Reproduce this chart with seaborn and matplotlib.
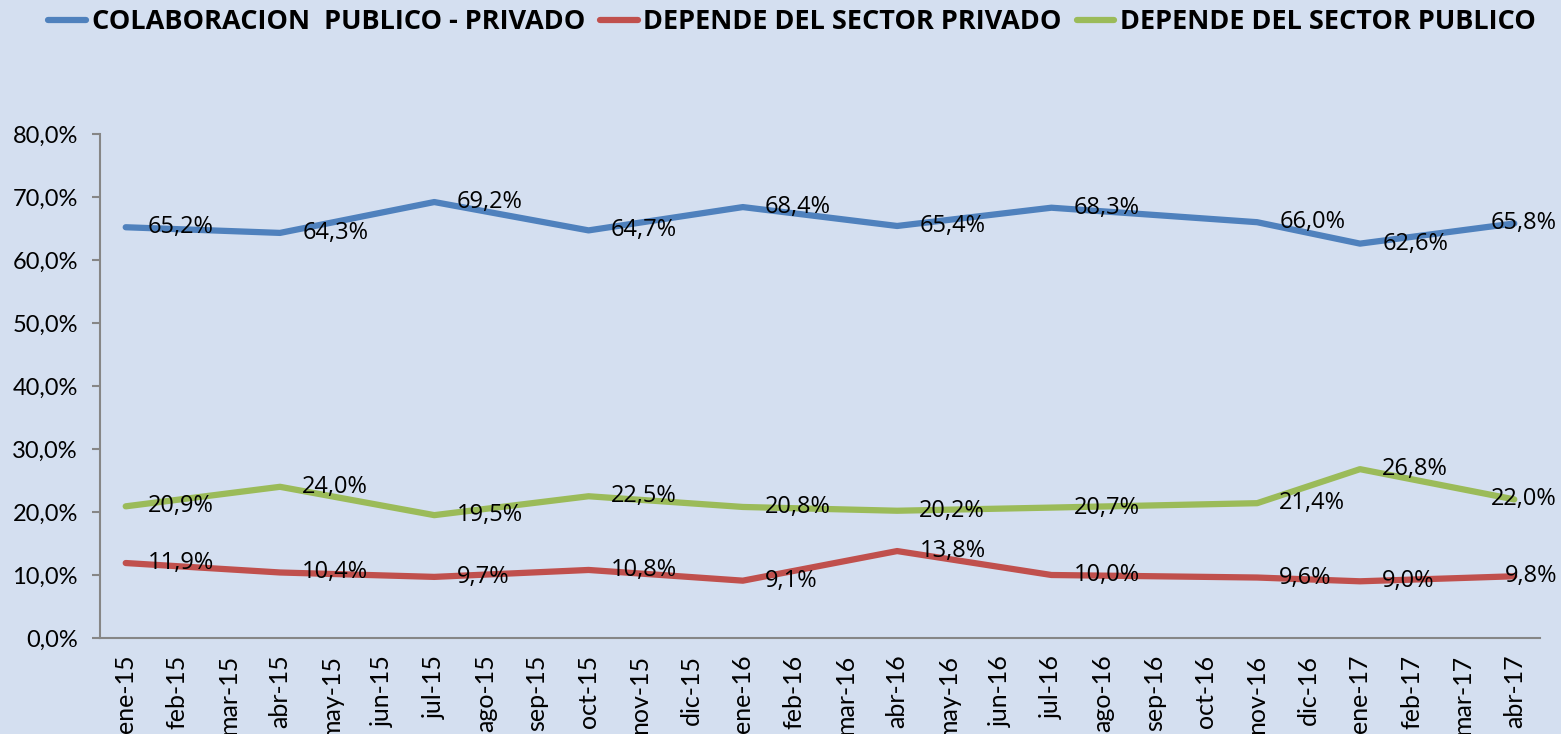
import numpy as np
import pandas as pd
import matplotlib
matplotlib.use("Agg")
import matplotlib.pyplot as plt
import seaborn as sns
from matplotlib import font_manager
from matplotlib.transforms import blended_transform_factory

months = ["ene-15", "feb-15", "mar-15", "abr-15", "may-15", "jun-15", "jul-15", "ago-15",
          "sep-15", "oct-15", "nov-15", "dic-15", "ene-16", "feb-16", "mar-16", "abr-16",
          "may-16", "jun-16", "jul-16", "ago-16", "sep-16", "oct-16", "nov-16", "dic-16",
          "ene-17", "feb-17", "mar-17", "abr-17"]
obs_months = ["ene-15", "abr-15", "jul-15", "oct-15", "ene-16", "abr-16", "jul-16",
              "nov-16", "ene-17", "abr-17"]
colab = [65.2, 64.3, 69.2, 64.7, 68.4, 65.4, 68.3, 66.0, 62.6, 65.8]
privado = [11.9, 10.4, 9.7, 10.8, 9.1, 13.8, 10.0, 9.6, 9.0, 9.8]
publico = [20.9, 24.0, 19.5, 22.5, 20.8, 20.2, 20.7, 21.4, 26.8, 22.0]
series_names = ["COLABORACION  PUBLICO - PRIVADO", "DEPENDE DEL SECTOR PRIVADO",
                "DEPENDE DEL SECTOR PUBLICO"]
colors = ["#4F81BD", "#C0504D", "#9BBB59"]

avail = {f.name for f in font_manager.fontManager.ttflist}
cond = "Open Sans" if "Open Sans" in avail else "DejaVu Sans"
tickfont = "Lato" if "Lato" in avail else "DejaVu Sans"

sns.set_theme(style="white")
plt.rcParams["font.family"] = [tickfont, "DejaVu Sans"]
plt.rcParams["text.color"] = "black"
plt.rcParams["xtick.color"] = "black"
plt.rcParams["ytick.color"] = "black"

bg = "#D4DFF0"
fig = plt.figure(figsize=(15.61, 7.34), dpi=100, facecolor=bg)
ax = fig.add_axes([100/1561, 96/734, 1440/1561, (638-134)/734])
ax.set_facecolor(bg)

rows = []
for name, vals in zip(series_names, [colab, privado, publico]):
    for m, v in zip(obs_months, vals):
        rows.append({"serie": name, "x": months.index(m), "valor": v / 100})
df = pd.DataFrame(rows)

sns.lineplot(data=df, x="x", y="valor", hue="serie", hue_order=series_names,
             palette=colors, linewidth=4.5, ax=ax, legend=False, sort=True)

edge_tr = blended_transform_factory(fig.transFigure, ax.transData)
for name, vals, c in zip(series_names, [colab, privado, publico], colors):
    for i, (m, v) in enumerate(zip(obs_months, vals)):
        txt = f"{v:.1f}%".replace(".", ",")
        if i == len(obs_months) - 1:
            # last label is pushed inside the figure's right edge
            ax.text(1557/1561, v / 100, txt, transform=edge_tr, ha="right", va="center",
                    fontsize=17, family=[cond, "DejaVu Sans"], color="black")
        else:
            ax.annotate(txt, (months.index(m), v / 100),
                        xytext=(16, 0), textcoords="offset points", ha="left", va="center",
                        fontsize=17, family=[cond, "DejaVu Sans"], color="black")

ax.set_xlim(-0.5, len(months) - 0.5)
ax.set_ylim(0, 0.8)
ax.set_yticks(np.arange(0, 0.81, 0.1))
ax.set_yticklabels([f"{t*100:.1f}%".replace(".", ",") for t in np.arange(0, 0.81, 0.1)],
                   fontsize=17)
ax.set_xticks(range(len(months)))
ax.set_xticklabels(months, rotation=90, fontsize=18)
ax.set_xticks(np.arange(-0.5, len(months), 1), minor=True)
ax.tick_params(axis="x", which="major", length=0, pad=12)
ax.tick_params(axis="x", which="minor", length=7, width=1.5, color="#868686", direction="out")
ax.tick_params(axis="y", length=6, width=1.5, color="#868686", direction="out", left=True, pad=10)
ax.set_xlabel("")
ax.set_ylabel("")
for s in ["top", "right"]:
    ax.spines[s].set_visible(False)
for s in ["left", "bottom"]:
    ax.spines[s].set_color("#868686")
    ax.spines[s].set_linewidth(1.5)

handles = [plt.Line2D([0], [0], color=c, lw=4.5, solid_capstyle="round") for c in colors]
fig.legend(handles, series_names, loc="center", bbox_to_anchor=(792/1561, 1 - 22/734), ncol=3,
           frameon=False, handlelength=1.4, handletextpad=0.2, columnspacing=0.55,
           borderpad=0, borderaxespad=0,
           prop={"family": [cond, "DejaVu Sans"], "weight": "bold", "size": 19.5})

fig.savefig("out.png", dpi=100, facecolor=bg)
